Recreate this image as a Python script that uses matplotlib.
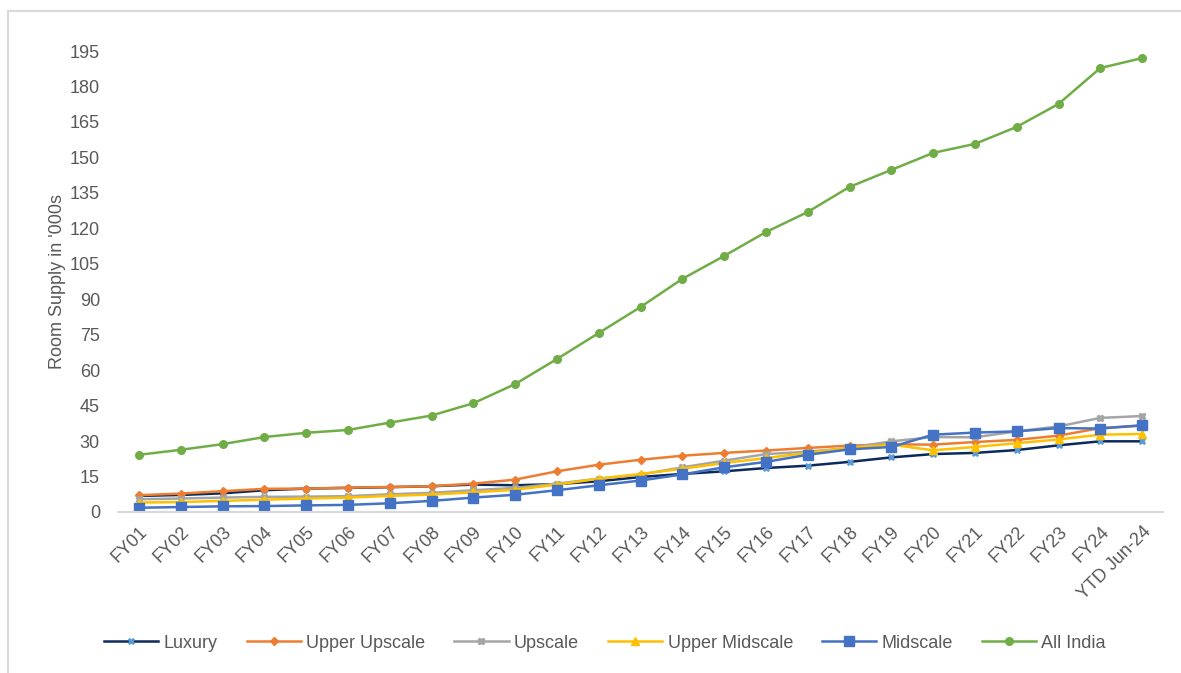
import matplotlib
matplotlib.use("Agg")
import matplotlib.pyplot as plt
from matplotlib.lines import Line2D

plt.rcParams['font.family'] = ['Liberation Sans', 'DejaVu Sans']

categories = ['FY01', 'FY02', 'FY03', 'FY04', 'FY05', 'FY06', 'FY07', 'FY08', 'FY09',
              'FY10', 'FY11', 'FY12', 'FY13', 'FY14', 'FY15', 'FY16', 'FY17', 'FY18',
              'FY19', 'FY20', 'FY21', 'FY22', 'FY23', 'FY24', 'YTD Jun-24']

luxury = [6.8, 7.2, 7.9, 9.2, 9.9, 10.2, 10.5, 10.9, 11.6, 11.3, 11.8, 13.0, 14.8,
          16.1, 17.2, 18.6, 19.6, 21.2, 23.1, 24.5, 25.0, 26.2, 28.2, 29.9, 29.9]
upper_upscale = [7.1, 7.8, 8.8, 9.8, 9.9, 10.3, 10.6, 10.9, 12.0, 13.7, 17.2, 20.0, 22.1,
                 23.8, 25.0, 26.0, 27.1, 28.1, 28.6, 28.5, 29.6, 30.5, 32.3, 35.5, 36.5]
upscale = [5.4, 5.7, 6.1, 6.4, 6.5, 6.7, 7.5, 8.1, 9.2, 10.2, 12.0, 14.1, 15.8,
           18.9, 21.7, 24.5, 25.5, 27.1, 29.9, 31.7, 31.6, 34.1, 36.2, 39.8, 40.6]
upper_midscale = [4.0, 4.2, 4.7, 5.2, 5.7, 6.1, 6.8, 7.4, 8.3, 9.4, 11.6, 14.1, 16.1,
                  18.3, 20.7, 22.8, 25.0, 27.1, 28.5, 26.1, 27.5, 29.1, 30.7, 32.7, 33.0]
midscale = [1.8, 2.1, 2.4, 2.5, 2.8, 3.0, 3.7, 4.7, 6.1, 7.3, 9.2, 11.3, 13.3,
            15.9, 18.9, 21.2, 24.2, 26.5, 27.5, 32.7, 33.6, 34.1, 35.5, 35.3, 36.7]
all_india = [24.2, 26.3, 28.7, 31.7, 33.5, 34.7, 37.8, 40.8, 46.0, 54.1, 64.7, 75.7, 86.7,
             98.6, 108.3, 118.4, 126.9, 137.5, 144.7, 151.9, 155.7, 162.9, 172.6, 187.8, 192.0]

yticks = list(range(0, 196, 15))

series = [
    ('Luxury', luxury, dict(color='#0B2A5C', marker='X', markersize=5,
                            markerfacecolor='#5B9BD5', markeredgecolor='#5B9BD5', markeredgewidth=0.5)),
    ('Upper Upscale', upper_upscale, dict(color='#ED7D31', marker='D', markersize=4.5,
                                          markerfacecolor='#ED7D31', markeredgecolor='#ED7D31')),
    ('Upscale', upscale, dict(color='#A5A5A5', marker='X', markersize=5,
                              markerfacecolor='#A5A5A5', markeredgecolor='#A5A5A5')),
    ('Upper Midscale', upper_midscale, dict(color='#FFC000', marker='^', markersize=6,
                                            markerfacecolor='#FFC000', markeredgecolor='#FFC000')),
    ('Midscale', midscale, dict(color='#4472C4', marker='s', markersize=6.5,
                                markerfacecolor='#4472C4', markeredgecolor='#4472C4')),
    ('All India', all_india, dict(color='#70AD47', marker='o', markersize=5.5,
                                  markerfacecolor='#70AD47', markeredgecolor='#70AD47')),
]

fig = plt.figure(figsize=(11.81, 6.73), dpi=100)
ax = fig.add_axes([118 / 1181, 1 - 512 / 673, (1163 - 118) / 1181, (512 - 51) / 673])

x = list(range(len(categories)))
handles = []
for name, vals, style in series:
    line, = ax.plot(x, vals, linewidth=1.8, label=name, **style)
    handles.append(line)

ax.set_xlim(-0.5, len(categories) - 0.5)
ax.set_ylim(0, 195)
ax.set_yticks(yticks)
ax.set_xticks(x)
ax.set_xticklabels(categories, rotation=45, ha='right', rotation_mode='anchor')

text_color = '#595959'
ax.tick_params(axis='both', length=0, labelsize=13, colors=text_color)
ax.tick_params(axis='y', pad=13)
ax.tick_params(axis='x', pad=8)
for side in ('left', 'right', 'top'):
    ax.spines[side].set_visible(False)
ax.spines['bottom'].set_color('#D9D9D9')
ax.spines['bottom'].set_linewidth(1.5)

ax.set_ylabel("Room Supply in '000s", fontsize=13, color=text_color, labelpad=3)

fig.legend(handles=handles, loc='center', bbox_to_anchor=(605 / 1181, 1 - 643 / 673),
           ncol=6, frameon=False, fontsize=13, handlelength=3.0, handletextpad=0.3,
           columnspacing=1.6, labelcolor=text_color)

# outer frame lines of the chart area
fig.add_artist(Line2D([8 / 1181, 8 / 1181], [0, 1 - 11 / 673], transform=fig.transFigure,
                      color='#D9D9D9', linewidth=1.5))
fig.add_artist(Line2D([8 / 1181, 1], [1 - 11 / 673, 1 - 11 / 673], transform=fig.transFigure,
                      color='#D9D9D9', linewidth=1.5))

fig.savefig('out.png', dpi=100)
